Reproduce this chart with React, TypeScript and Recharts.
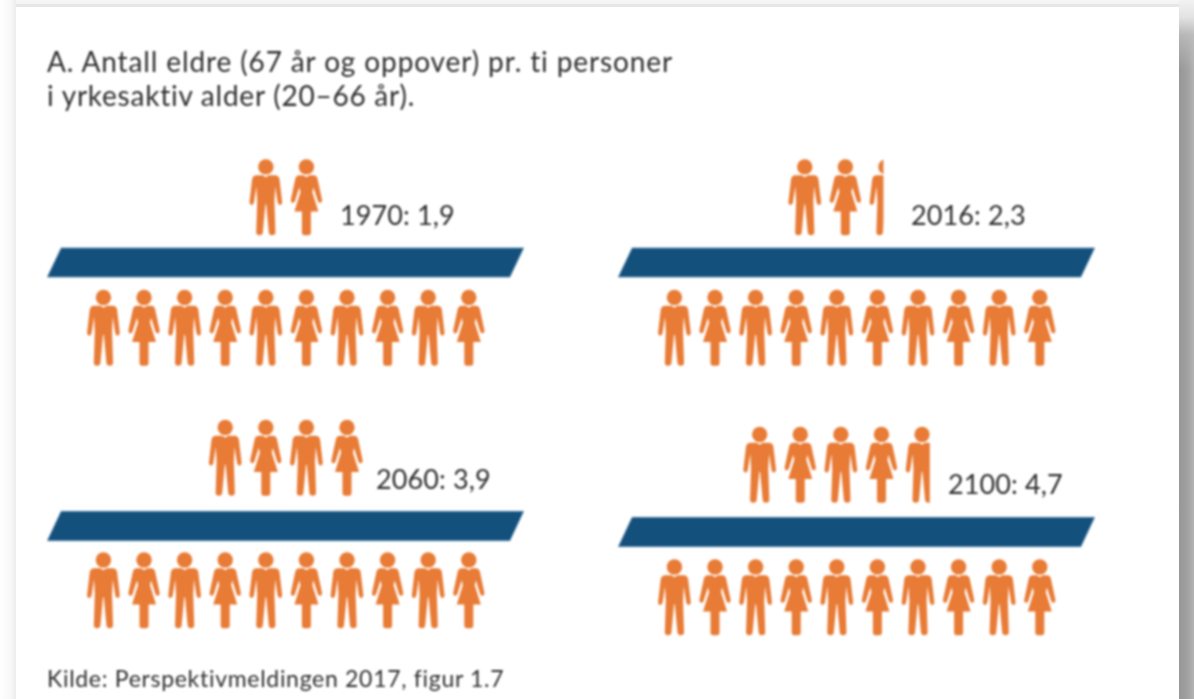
import React from "react";
import { ComposedChart, Scatter, XAxis, YAxis, ReferenceArea } from "recharts";

const TITLE_LINE_1 = "A. Antall eldre (67 år og oppover) pr. ti personer";
const TITLE_LINE_2 = "i yrkesaktiv alder (20–66 år).";
const SOURCE = "Kilde: Perspektivmeldingen 2017, figur 1.7";

const years = ["1970", "2016", "2060", "2100"];
const ratioLabels = ["1,9", "2,3", "3,9", "4,7"];
const workerShares = [1, 1, 1, 1, 1, 1, 1, 1, 1, 1];
const elderShares1970 = [1, 1];
const elderShares2016 = [1, 1, 0.44];
const elderShares2060 = [1, 1, 1, 1];
const elderShares2100 = [1, 1, 1, 1, 0.75];
const elderShares = [elderShares1970, elderShares2016, elderShares2060, elderShares2100];
const elderStartSlots = [5, 4.21, 4, 3.1];
const floorCentres = [1, 1, 0.97, 0.985];

const panelLeft = [47, 618, 47, 618];
const panelTop = [158, 158, 418, 425];
const panelHeight = [209, 209, 212, 212];
const labelLeft = [340, 911, 376, 948];
const labelTop = [199, 199, 463, 468];

const ORANGE = "#e87b35";
const BLUE = "#13507c";
const FONT = "Lato, 'Open Sans', sans-serif";

const MAN =
  "M-9,-22 L-3,-22 L0,-20 L3,-22 L9,-22 Q13,-22 13.7,-18 L16.3,4.5 Q16.5,7.5 14.3,7.8 Q12.3,8 11.8,5 L9.4,-11 L8.6,4 L9.6,35 Q9.6,38 6.3,38 Q3.2,38 3,35 L0.4,7 L-0.4,7 L-3,35 Q-3.2,38 -6.3,38 Q-9.6,38 -9.6,35 L-8.6,4 L-9.4,-11 L-11.8,5 Q-12.3,8 -14.3,7.8 Q-16.5,7.5 -16.3,4.5 L-13.7,-18 Q-13,-22 -9,-22 Z";
const WOMAN =
  "M-7,-22 L-3,-22 L0,-20 L3,-22 L7,-22 Q10,-22 11,-19 L15.5,2 Q16,5 14,5.5 Q12,6 11.3,3.5 L7,-10 L6,-5 L12,14.3 L4.5,14.3 L4.5,35 Q4.5,38 2,38 L-2,38 Q-4.5,38 -4.5,35 L-4.5,14.3 L-12,14.3 L-6,-5 L-7,-10 L-11.3,3.5 Q-12,6 -14,5.5 Q-16,5 -15.5,2 L-11,-19 Q-10,-22 -7,-22 Z";

function Person(props: any) {
  const { cx, cy, payload } = props;
  const { share, index, id } = payload;
  const clipId = `clip-${id}-${index}`;
  const partial = share < 1;
  return (
    <g transform={`translate(${cx},${cy})`}>
      {partial && (
        <clipPath id={clipId}>
          <rect x={-17} y={-40} width={33 * share} height={80} />
        </clipPath>
      )}
      <g clipPath={partial ? `url(#${clipId})` : undefined} fill={ORANGE}>
        <circle cx={0} cy={-30.3} r={7.7} />
        <path d={index % 2 === 0 ? MAN : WOMAN} />
      </g>
    </g>
  );
}

function Floor(props: any) {
  const { x, y, width, height } = props;
  const slant = 14;
  return (
    <polygon
      points={`${x + slant},${y} ${x + width},${y} ${x + width - slant},${y + height} ${x},${y + height}`}
      fill={BLUE}
      stroke="#a9c4d8"
      strokeWidth={0.8}
    />
  );
}

function Panel({ i }: { i: number }) {
  const id = years[i];
  const workers = workerShares.map((share, k) => ({ slot: k + 1, row: 0, share, index: k, id: id + "w" }));
  const elders = elderShares[i].map((share, k) => ({
    slot: elderStartSlots[i] + k,
    row: 2,
    share,
    index: k,
    id: id + "e",
  }));
  return (
    <div style={{ position: "absolute", left: panelLeft[i], top: panelTop[i] }}>
      <ComposedChart
        width={477}
        height={panelHeight[i]}
        margin={{ top: 0, right: 0, bottom: 0, left: 0 }}
      >
        <XAxis type="number" dataKey="slot" domain={[-0.39, 11.36]} hide />
        <YAxis type="number" dataKey="row" domain={[-0.6, 2.6]} hide />
        <ReferenceArea
          x1={-0.39}
          x2={11.36}
          y1={floorCentres[i] - 0.225}
          y2={floorCentres[i] + 0.225}
          shape={Floor}
        />
        <Scatter data={elders} shape={Person} isAnimationActive={false} />
        <Scatter data={workers} shape={Person} isAnimationActive={false} />
      </ComposedChart>
    </div>
  );
}

const textStyle: React.CSSProperties = {
  position: "absolute",
  fontFamily: FONT,
  color: "#2e2e2e",
  whiteSpace: "nowrap",
};

export default function App() {
  return (
    <div
      style={{
        position: "absolute",
        left: 0,
        top: 0,
        width: 1194,
        height: 699,
        overflow: "hidden",
        background: "#fff",
      }}
    >
      <div style={{ position: "absolute", left: 0, top: 0, width: 1194, height: 7, background: "linear-gradient(#f6f6f6 0,#f3f3f3 55%,#e6e6e6 60%,#e6e6e6 100%)" }} />
      <div style={{ position: "absolute", left: 0, top: 0, width: 16, height: 699, background: "linear-gradient(90deg,#ffffff 0,#f7f7f7 70%,#ececec 100%)" }} />
      <div style={{ position: "absolute", left: 1179, top: 0, width: 15, height: 699, background: "linear-gradient(90deg,#969696 0,#a2a2a2 60%,#b4b4b4 100%)" }} />
      <div style={{ position: "absolute", left: 1179, top: 0, width: 15, height: 70, background: "linear-gradient(#f2f2f2 0,#e2e2e2 25%,rgba(190,190,190,0.8) 50%,rgba(150,150,150,0) 100%)" }} />
      <div style={{ position: "absolute", left: 16, top: 7, width: 1163, height: 692, background: "#fff" }} />
      <div style={{ position: "absolute", left: 0, top: 0, width: 1179, height: 699, overflow: "hidden", filter: "blur(0.8px)" }}>
        <div style={{ ...textStyle, left: 47, top: 44, fontSize: 28, lineHeight: "34px" }}>
          <div style={{ letterSpacing: 0.88 }}>{TITLE_LINE_1}</div>
          <div style={{ letterSpacing: 0.76 }}>{TITLE_LINE_2}</div>
        </div>
        {years.map((_, i) => (
          <Panel key={i} i={i} />
        ))}
        {years.map((y, i) => (
          <div
            key={y}
            style={{ ...textStyle, left: labelLeft[i], top: labelTop[i], fontSize: 27, letterSpacing: 0.1, lineHeight: "32px" }}
          >
            {`${y}: ${ratioLabels[i]}`}
          </div>
        ))}
        <div style={{ ...textStyle, left: 47, top: 663, fontSize: 23, letterSpacing: 0.7, lineHeight: "30px" }}>{SOURCE}</div>
      </div>
    </div>
  );
}
